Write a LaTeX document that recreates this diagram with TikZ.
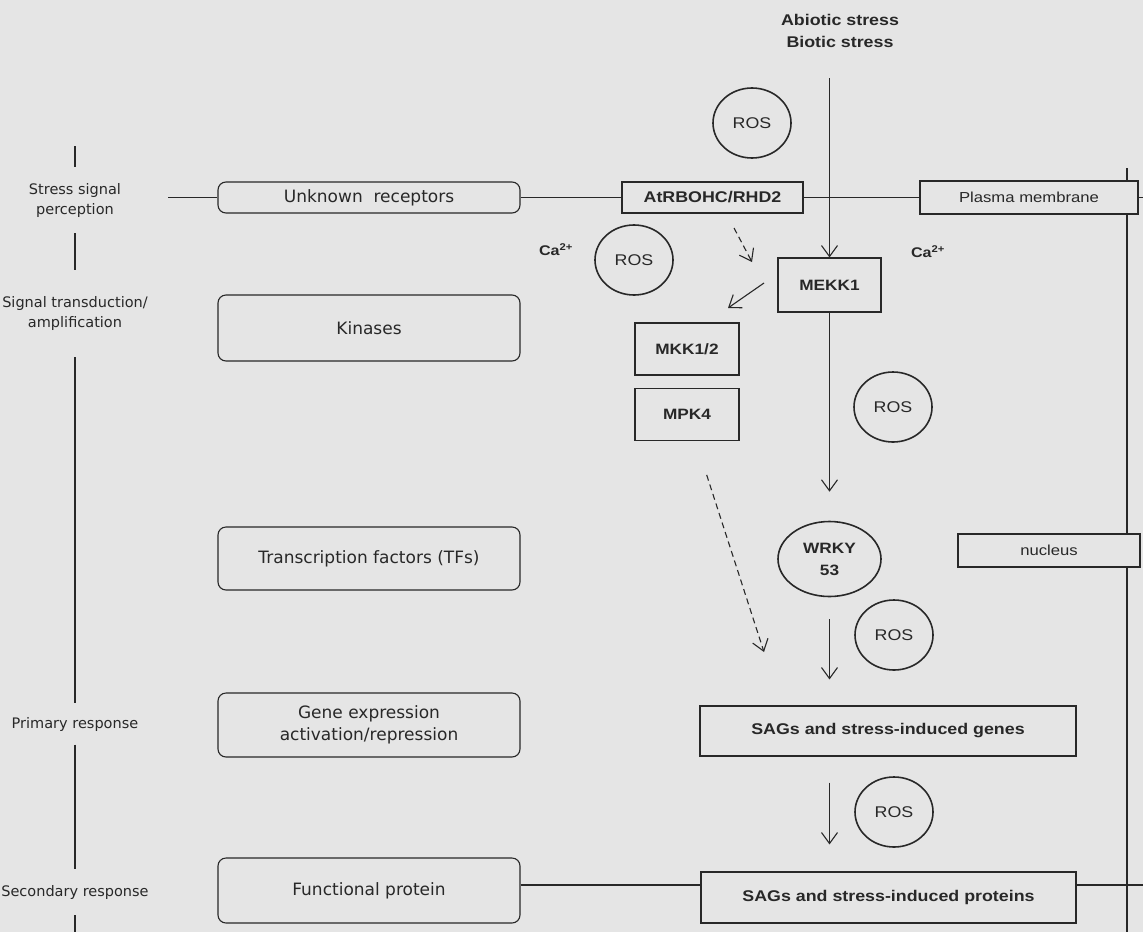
\documentclass[tikz,border=0pt]{standalone}
\usepackage{fontspec}
\setmainfont[FakeStretch=1.15]{Liberation Sans}
\newfontfamily\levelfont{DejaVu Sans}
\usetikzlibrary{positioning,shapes,arrows.meta}
\definecolor{paper}{RGB}{229,229,229}
\definecolor{ink}{RGB}{40,40,40}

\begin{document}
\begin{tikzpicture}[x=1pt,y=-1pt,
	every node/.style={text=ink},
	level/.style={font=\levelfont\fontsize{14.5}{20}\selectfont,align=center,inner sep=0pt},
	phase/.style={draw=ink,line width=1.1pt,rounded corners=8pt,fill=paper,minimum width=302pt,inner sep=0pt,align=center,font=\levelfont\fontsize{17}{22}\selectfont},
	gene/.style={draw=ink,line width=1.1pt,fill=paper,inner sep=0pt,align=center,font=\bfseries\fontsize{15}{18}\selectfont},
	ros/.style={draw=ink,line width=1.6pt,ellipse,minimum width=78pt,minimum height=70pt,inner sep=0pt,align=center,font=\fontsize{15.5}{18}\selectfont},
	memb/.style={draw=ink,line width=1.1pt},
	spine/.style={draw=ink,line width=2.2pt},
	flow/.style={color=ink,line width=1.1pt,-{Straight Barb[length=11pt,width=16pt]}}]
			\fill[paper] (0,0) rectangle (1143,932);
			\useasboundingbox (0,0) rectangle (1143,932);

			\coordinate (SpineTop) at (75,146);
			\coordinate (SpineEnd) at (75,932);
			\coordinate (CellTop)  at (1127,168);
			\coordinate (CellEnd)  at (1127,932);
			\coordinate (MembIn)   at (168,197.5);
			\coordinate (MembOut)  at (1143,197.5);
			\coordinate (BaseIn)   at (0,885);
			\coordinate (BaseOut)  at (1143,885);
			\coordinate (StressIn) at (829.5,78);
			\coordinate (RbohFrom) at (734,228);
			\coordinate (RbohTip)  at (752,262);
			\coordinate (KinFrom)  at (764,283);
			\coordinate (KinTip)   at (728,308);
			\coordinate (DashTip)  at (764,652);

			\draw[spine] (CellTop) -- (CellEnd);

			\node[level,minimum height=66pt] (Perception)   at (75,200)   {Stress signal\\perception};
			\node[level,minimum height=87pt] (Transduction) at (75,313.5) {Signal transduction/\\amplification};
			\node[level,minimum height=41pt] (Primary)      at (75,724)   {Primary response};
			\node[level,minimum height=46pt] (Secondary)    at (75,892)   {Secondary response};

			\node[phase,minimum height=31pt] (Receptors)  at (369,197.5) {Unknown\ \ receptors};
			\node[phase,minimum height=66pt] (Kinases)    at (369,328)   {Kinases};
			\node[phase,minimum height=63pt] (TFs)        at (369,558.5) {Transcription factors (TFs)};
			\node[phase,minimum height=64pt] (GeneExpr)   at (369,725)   {Gene expression\\activation/repression};
			\node[phase,minimum height=65pt] (Functional) at (369,890.5) {Functional protein};

			\node[align=center,font=\bfseries\fontsize{15.5}{22}\selectfont] (Stress) at (840,31) {Abiotic stress\\Biotic stress};
			\node[gene,minimum width=181pt,minimum height=31pt,font=\bfseries\fontsize{15.5}{18}\selectfont] (AtRBOHC) at (712.5,197.5) {AtRBOHC/RHD2};
			\node[gene,minimum width=218pt,minimum height=33pt,font=\fontsize{14.5}{18}\selectfont] (PlasmaMem) at (1029,197.5) {Plasma membrane};
			\node[gene,minimum width=103pt,minimum height=54pt] (MEKK) at (829.5,285) {MEKK1};
			\node[gene,minimum width=104pt,minimum height=52pt] (MKK)  at (687,349)   {MKK1/2};
			\node[gene,minimum width=104pt,minimum height=52pt,below=12pt of MKK] (MPK) {MPK4};
			\node[ros,minimum width=103pt,minimum height=75pt,font=\bfseries\fontsize{15}{22}\selectfont] (WRKY) at (829.5,559) {WRKY\\53};
			\node[gene,minimum width=182pt,minimum height=33pt,font=\fontsize{14.5}{18}\selectfont] (Nucleus) at (1049,550.5) {nucleus};
			\node[gene,minimum width=376pt,minimum height=50pt,font=\bfseries\fontsize{15.5}{18}\selectfont] (SAGgenes) at (888,731)   {SAGs and stress-induced genes};
			\node[gene,minimum width=375pt,minimum height=51pt,font=\bfseries\fontsize{15.5}{18}\selectfont] (SAGprot)  at (888.5,897.5) {SAGs and stress-induced proteins};

			\node[ros] (RosTop)    at (752,123) {ROS};
			\node[ros] (RosMid)    at (634,260) {ROS};
			\node[ros] (RosRight)  at (893,407) {ROS};
			\node[ros] (RosLow)    at (894,635) {ROS};
			\node[ros] (RosBottom) at (894,812) {ROS};
			\node[font=\bfseries\fontsize{14}{18}\selectfont] (CaLeft)  at (556,250) {Ca\textsuperscript{2+}};
			\node[font=\bfseries\fontsize{14}{18}\selectfont] (CaRight) at (928,252) {Ca\textsuperscript{2+}};

			\draw[spine] (SpineTop) -- (Perception) (Perception) -- (Transduction) (Transduction) -- (Primary) (Primary) -- (Secondary) (Secondary) -- (SpineEnd);
			\draw[memb] (MembIn) -- (Receptors) (Receptors) -- (AtRBOHC) (AtRBOHC) -- (PlasmaMem) (PlasmaMem) -- (MembOut);
			\draw[memb] (BaseIn -| Functional.east) -- (BaseIn -| SAGprot.west) (BaseIn -| SAGprot.east) -- (BaseOut);

			\path[flow]
						 (StressIn) edge (MEKK)
						 (KinFrom)  edge (KinTip)
						 (MEKK)     edge[shorten >=29pt] (WRKY)
						 (WRKY)     edge[shorten <=22pt,shorten >=26pt] (WRKY |- SAGgenes.north)
						 (WRKY |- SAGgenes.south) edge[shorten <=26pt,shorten >=27pt] (WRKY |- SAGprot.north);
			\path[flow,dash pattern=on 6pt off 4pt]
						 (RbohFrom) edge (RbohTip)
						 (MPK)      edge[shorten <=36pt] (DashTip);
		\end{tikzpicture}
\end{document}
